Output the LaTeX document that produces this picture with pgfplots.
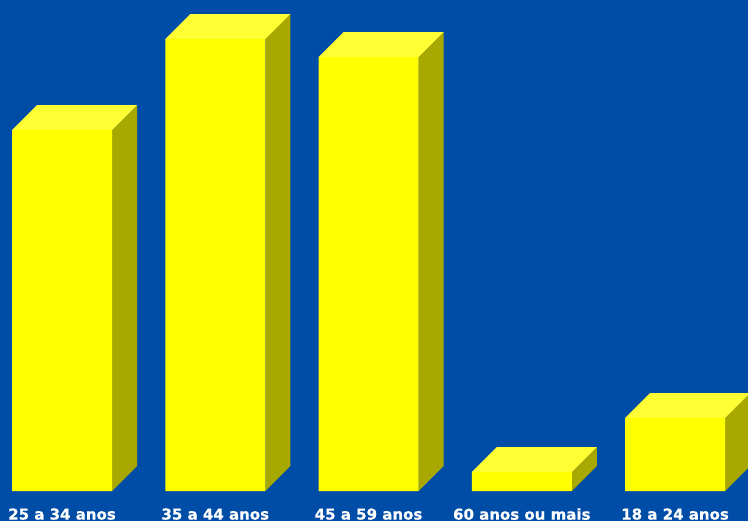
\documentclass[border=0pt]{standalone}
\usepackage{pgfplots}
\pgfplotsset{compat=1.18}
\usepackage{fontspec}
\setmainfont{DejaVu Sans}[BoldFeatures={FakeBold=0.6}]
\definecolor{fundo}{RGB}{0,77,168}
\definecolor{frente}{RGB}{255,255,0}
\definecolor{topo}{RGB}{255,255,51}
\definecolor{lado}{RGB}{168,168,0}
\begin{document}
\begin{tikzpicture}
  \begin{axis}[
    scale only axis,
    width=748pt, height=521pt,
    xmin=-0.4046, xmax=4.476,
    ymin=-30, ymax=491,
    axis background/.style={fill=fundo},
    axis line style={draw=none},
    major tick length=0pt,
    ytick=\empty,
    xtick={0,1,2,3,4},
    xticklabels={25 a 34 anos,35 a 44 anos,45 a 59 anos,60 anos ou mais,18 a 24 anos},
    x tick label style={anchor=center, yshift=7pt, text=white, font=\bfseries\fontsize{15}{15}\selectfont},
    ]
    % faces laterais
    \addplot[fill=lado, draw=none] coordinates {(0.3263,0) (0.4894,25) (0.4894,386) (0.3263,361)};
    \addplot[fill=lado, draw=none] coordinates {(1.3263,0) (1.4894,25) (1.4894,477) (1.3263,452)};
    \addplot[fill=lado, draw=none] coordinates {(2.3263,0) (2.4894,25) (2.4894,459) (2.3263,434)};
    \addplot[fill=lado, draw=none] coordinates {(3.3263,0) (3.4894,25) (3.4894,44) (3.3263,19)};
    \addplot[fill=lado, draw=none] coordinates {(4.3263,0) (4.4894,25) (4.4894,98) (4.3263,73)};
    % topos
    \addplot[fill=topo, draw=none] coordinates {(-0.3263,361) (0.3263,361) (0.4894,386) (-0.1632,386)};
    \addplot[fill=topo, draw=none] coordinates {(0.6737,452) (1.3263,452) (1.4894,477) (0.8368,477)};
    \addplot[fill=topo, draw=none] coordinates {(1.6737,434) (2.3263,434) (2.4894,459) (1.8368,459)};
    \addplot[fill=topo, draw=none] coordinates {(2.6737,19) (3.3263,19) (3.4894,44) (2.8368,44)};
    \addplot[fill=topo, draw=none] coordinates {(3.6737,73) (4.3263,73) (4.4894,98) (3.8368,98)};
    % frentes
    \addplot[ybar, bar width=0.6525, bar shift=0pt, fill=frente, draw=none] coordinates {
      (0,361) (1,452) (2,434) (3,19) (4,73)
    };
  \end{axis}
\end{tikzpicture}
\end{document}
